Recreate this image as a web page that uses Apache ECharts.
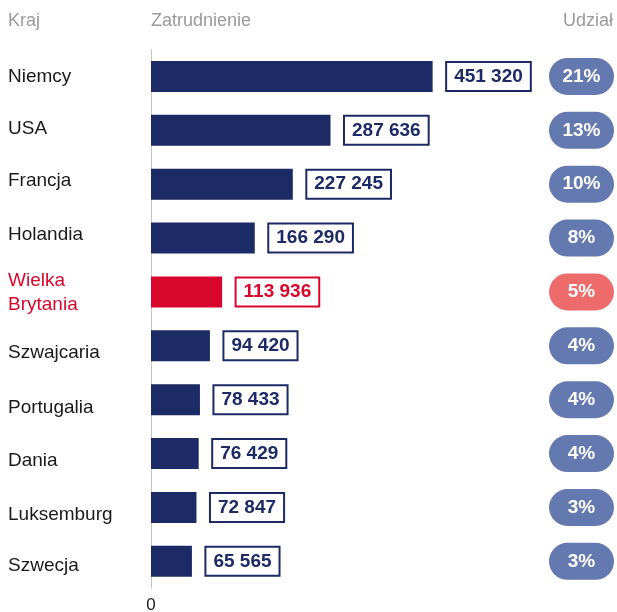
<!DOCTYPE html>
<html>
<head>
<meta charset="utf-8">
<script src="https://cdn.jsdelivr.net/npm/echarts@6/dist/echarts.min.js"></script>
<style>
  html, body { margin: 0; padding: 0; background: #fff; }
  #chart { width: 617px; height: 612px; }
</style>
</head>
<body>
<div id="chart"></div>
<script>
// Employment by country, with each country's share of the total
const countries = ['Niemcy', 'USA', 'Francja', 'Holandia', 'Wielka\nBrytania', 'Szwajcaria', 'Portugalia', 'Dania', 'Luksemburg', 'Szwecja'];
const employment = [451320, 287636, 227245, 166290, 113936, 94420, 78433, 76429, 72847, 65565];
const shares = ['21%', '13%', '10%', '8%', '5%', '4%', '4%', '4%', '3%', '3%'];
const highlighted = 'Wielka\nBrytania';

const FONT = '"Liberation Sans", Arial, Helvetica, sans-serif';
const NAVY = '#1c2a65';
const RED = '#d9062c';
const PILL_BLUE = '#6579b1';
const PILL_RED = '#ee6b6b';
const GREY = '#9a9a9a';

// vertical nudge (px, positive = down) of each country name against its bar
const nameNudge = [0, -2, -3, -3, 1, 7, 8, 7, 7, 4];

const fmt = v => String(v).replace(/\B(?=(\d{3})+(?!\d))/g, ' ');

const pill = color => ({
  backgroundColor: color, color: '#fff', fontWeight: 'bold', fontSize: 19,
  fontFamily: FONT, width: 65, height: 37, lineHeight: 37, align: 'center', borderRadius: 18.5
});

// one rich style per row so each name can carry its own nudge
const nameRich = {};
countries.forEach((c, i) => {
  const d = nameNudge[i];
  nameRich['n' + i] = {
    fontSize: 19,
    lineHeight: 24,
    fontFamily: FONT,
    color: c === highlighted ? RED : '#1a1a1a',
    padding: d >= 0 ? [d * 2, 0, 0, 0] : [0, 0, -d * 2, 0]
  };
});

const chart = echarts.init(document.getElementById('chart'), null, { renderer: 'canvas' });

chart.setOption({
  animation: false,
  textStyle: { fontFamily: FONT },
  grid: { left: 151, top: 49.5, width: 400, height: 538.8, containLabel: false, outerBoundsMode: 'none' },
  xAxis: {
    type: 'value',
    min: 0,
    max: 641000,
    interval: 641000,
    splitLine: { show: false },
    axisLine: { show: false },
    axisTick: { show: false },
    axisLabel: {
      margin: 9,
      fontSize: 17,
      color: '#1a1a1a',
      fontFamily: FONT,
      formatter: v => (v === 0 ? '0' : '')
    }
  },
  yAxis: [
    {
      type: 'category',
      inverse: true,
      data: countries,
      axisLine: { show: true, lineStyle: { color: '#c4c4c4', width: 1 } },
      axisTick: { show: false },
      axisLabel: {
        align: 'left',
        margin: 143,
        fontSize: 19,
        lineHeight: 24,
        fontFamily: FONT,
        color: '#1a1a1a',
        formatter: (v, i) => v.split('\n').map(line => '{n' + i + '|' + line + '}').join('\n'),
        rich: nameRich
      }
    },
    {
      type: 'category',
      inverse: true,
      position: 'right',
      data: shares,
      axisLine: { show: false },
      axisTick: { show: false },
      axisLabel: {
        margin: -2,
        formatter: (v, i) => (countries[i] === highlighted ? '{r|' + v + '}' : '{b|' + v + '}'),
        rich: { b: pill(PILL_BLUE), r: pill(PILL_RED) }
      }
    }
  ],
  series: [
    {
      type: 'bar',
      yAxisIndex: 0,
      barWidth: 31,
      data: employment.map((v, i) => {
        const isHl = countries[i] === highlighted;
        return {
          value: v,
          itemStyle: { color: isHl ? RED : NAVY },
          label: {
            color: isHl ? RED : NAVY,
            borderColor: isHl ? RED : NAVY
          }
        };
      }),
      label: {
        show: true,
        position: 'right',
        distance: 14.5,
        formatter: p => fmt(p.value),
        fontFamily: FONT,
        fontWeight: 'bold',
        fontSize: 19,
        lineHeight: 20,
        backgroundColor: '#fff',
        borderWidth: 2,
        padding: [4, 7, 3, 7]
      }
    }
  ],
  graphic: [
    { type: 'text', left: 8, top: 12, style: { text: 'Kraj', fontSize: 18, fill: GREY, fontFamily: FONT } },
    { type: 'text', left: 151, top: 12, style: { text: 'Zatrudnienie', fontSize: 18, fill: GREY, fontFamily: FONT } },
    { type: 'text', right: 4, top: 12, style: { text: 'Udział', fontSize: 18, fill: GREY, fontFamily: FONT } }
  ]
});
</script>
</body>
</html>
